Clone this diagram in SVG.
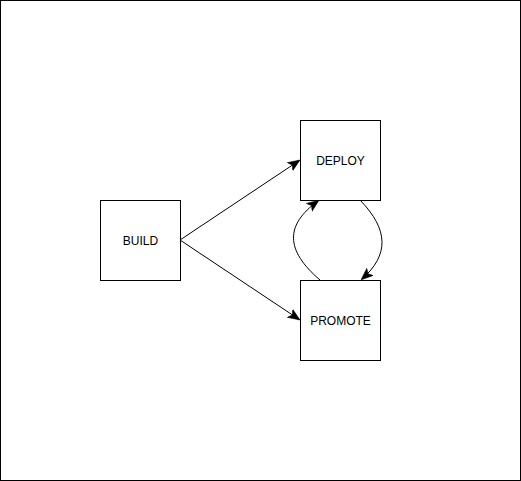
<svg xmlns="http://www.w3.org/2000/svg" width="521" height="481" viewBox="0 0 521 481">
<style>
.node rect{fill:#fff;stroke:#000;stroke-width:1}
.node text{font-family:"Liberation Sans",Arial,sans-serif;font-size:12px;fill:#000;text-anchor:middle;dominant-baseline:central}
.edge{fill:none;stroke:#000;stroke-width:1;marker-end:url(#arr)}
</style>
<defs>
<marker id="arr" markerUnits="userSpaceOnUse" markerWidth="12" markerHeight="12" viewBox="0 0 10 8" refX="9" refY="4" orient="auto">
<path d="M0,0 L10,4 L0,8 L2.5,4 z" fill="#000" stroke="#000" stroke-width="0.5"/>
</marker>
</defs>
<rect x="0.5" y="0.5" width="520" height="480" fill="#fff" stroke="#000"/>
<g id="connectors">
<path class="edge" d="M180,240 L299,160.7"/>
<path class="edge" d="M180,240 L299,319.3"/>
<path class="edge" d="M320,280 C285,250 285,225 318,201"/>
<path class="edge" d="M360,200 C389,230 389,255 362,279"/>
</g>
<g id="build" class="node"><rect x="100.5" y="200.5" width="80" height="80"/><text x="140.5" y="240.5">BUILD</text></g>
<g id="deploy" class="node"><rect x="300.5" y="120.5" width="80" height="80"/><text x="340.5" y="160.5">DEPLOY</text></g>
<g id="promote" class="node"><rect x="300.5" y="280.5" width="80" height="80"/><text x="340.5" y="320.5">PROMOTE</text></g>
</svg>
